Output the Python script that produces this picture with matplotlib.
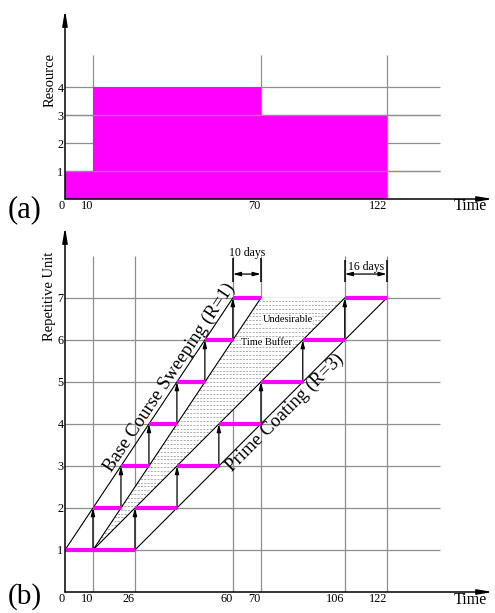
import numpy as np
import matplotlib
matplotlib.use('Agg')
import matplotlib.pyplot as plt
from matplotlib.patches import Polygon

plt.rcParams['font.family'] = ['Liberation Serif', 'DejaVu Serif']

# (a) resource histogram
res_times = [0, 10, 70, 122]
res_levels = [1, 4, 3]
res_ticks = [1, 2, 3, 4]
res_time_ticks = [0, 10, 70, 122]

# (b) repetitive schedule
units = [1, 2, 3, 4, 5, 6, 7]
base_start = [0, 10, 20, 30, 40, 50, 60]     # Base Course Sweeping (R=1)
base_dur = 10
prime_start = [10, 26, 42, 58, 74, 90, 106]  # Prime Coating (R=3)
prime_dur = 16
time_ticks = [0, 10, 26, 60, 70, 106, 122]

MAG = '#ff00ff'
GRID = '#8f8f8f'

# the time axis of the figure is not to scale: a 16-day prime unit is drawn 15 days wide
knots = {}
for t in base_start + [base_start[-1] + base_dur]:
    knots[t] = t
for j, t in enumerate(prime_start + [prime_start[-1] + prime_dur]):
    knots.setdefault(t, prime_start[0] + 15 * j)
kx = sorted(knots)
ky = [knots[k] for k in kx]
for i in range(1, len(ky)):
    if ky[i] <= ky[i - 1]:
        ky[i] = ky[i - 1] + 0.05
kx = [-100] + kx + [kx[-1] + 200]
ky = [-100] + ky + [ky[-1] + 200]


def fwd(x):
    return np.interp(x, kx, ky)


def inv(y):
    return np.interp(y, ky, kx)


fig = plt.figure(figsize=(4.95, 6.13), dpi=100)
W, H = 495, 613
axa = fig.add_axes([65 / W, 1 - 199 / H, 428 / W, 189 / H])
axb = fig.add_axes([65 / W, 1 - 592 / H, 428 / W, 365 / H])

XMAX = 160
GRID_END = 141


def setup(ax, yticks, xticks, ytop):
    ax.set_xscale('function', functions=(fwd, inv))
    ax.set_xlim(0, XMAX)
    ax.set_ylim(0, ytop)
    for s in ax.spines.values():
        s.set_visible(False)
    ax.set_xticks(xticks, labels=[str(t) for t in xticks])
    ax.set_yticks(yticks, labels=[str(t) for t in yticks])
    ax.tick_params(length=0, labelsize=8.8, pad=1)
    ax.tick_params(axis='x', pad=0.5)
    for lab in ax.get_xticklabels():
        lab.set_ha('right')
    ax.minorticks_off()
    arrow = dict(arrowstyle='-|>,head_length=0.9,head_width=0.15', lw=1.1,
                 color='k', shrinkA=0, shrinkB=0)
    ax.annotate('', xy=(0, 1), xytext=(0, 0), xycoords='axes fraction',
                arrowprops=arrow, annotation_clip=False, zorder=6)
    ax.annotate('', xy=(1, 0), xytext=(0, 0), xycoords='axes fraction',
                arrowprops=arrow, annotation_clip=False, zorder=6)


# ---- (a)
setup(axa, res_ticks, res_time_ticks, 6.75)
axa.vlines(res_time_ticks[1:], 0, 5.14, colors=GRID, lw=0.9, zorder=1)
axa.hlines(res_ticks, 0, GRID_END, colors=GRID, lw=0.9, zorder=1)
axa.fill_between(res_times, res_levels + [res_levels[-1]], step='post',
                 color=MAG, lw=0, zorder=2)
# crew boundaries (1 base crew, 3 prime crews) show over the fill
axa.hlines([res_levels[0], res_levels[-1]], 0, GRID_END, colors=GRID, lw=0.9, zorder=3)

# ---- (b)
setup(axb, units, time_ticks, 8.69)
axb.vlines(time_ticks[1:], 0, 8.0, colors=GRID, lw=0.9, zorder=1)
axb.hlines(units, 0, GRID_END, colors=GRID, lw=0.9, zorder=1)

base_end = [t + base_dur for t in base_start]
prime_end = [t + prime_dur for t in prime_start]

# undesirable time buffer
poly = Polygon([(base_end[0], units[0]), (base_end[-1], units[-1]),
                (prime_start[-1], units[-1])], closed=True, fc='white',
               ec='none', zorder=1.5)
axb.add_patch(poly)
hat = axb.hlines(np.arange(units[0] + 0.04, units[-1], 0.092), 0, GRID_END,
                 colors='#939393', lw=0.55, linestyles=(0, (2.5, 1.8)), zorder=1.6)
hat.set_clip_path(poly)

for xs in [(base_start[0], base_start[-1]), (base_end[0], base_end[-1]),
           (prime_start[0], prime_start[-1]), (prime_end[0], prime_end[-1])]:
    axb.plot(xs, (units[0], units[-1]), color='k', lw=0.8, zorder=2)

varrow = dict(arrowstyle='-|>,head_length=0.45,head_width=0.12', lw=0.9,
              color='k', shrinkA=0, shrinkB=0)
for i in range(len(units) - 1):
    axb.annotate('', xy=(base_start[i + 1], units[i + 1]), xytext=(base_end[i], units[i]),
                 arrowprops=varrow, zorder=3)
    axb.annotate('', xy=(prime_start[i + 1], units[i + 1]), xytext=(prime_end[i], units[i]),
                 arrowprops=varrow, zorder=3)

axb.hlines(units, base_start, base_end, colors=MAG, lw=3, zorder=4)
axb.hlines(units, prime_start, prime_end, colors=MAG, lw=3, zorder=4)


def angle(ax, p0, p1):
    a = ax.transData.transform(p0)
    b = ax.transData.transform(p1)
    return np.degrees(np.arctan2(b[1] - a[1], b[0] - a[0]))


ang_b = angle(axb, (base_start[0], units[0]), (base_start[-1], units[-1]))
ang_p = angle(axb, (prime_end[0], units[0]), (prime_end[-1], units[-1]))
axb.text(40, 5, 'Base Course Sweeping (R=1)', rotation=ang_b, rotation_mode='anchor',
         ha='center', va='bottom', fontsize=13.5, zorder=5)
axb.text(80.7, 4.42, 'Prime Coating (R=3)', rotation=ang_p, rotation_mode='anchor',
         ha='center', va='top', fontsize=13.5, zorder=5)

box = dict(fc='white', ec='none', pad=0.3)
axb.text(84.2, 6.48, 'Undesirable', ha='center', va='center', fontsize=7.5,
         bbox=box, zorder=5)
axb.text(76.3, 5.95, 'Time Buffer', ha='center', va='center', fontsize=7.5,
         bbox=box, zorder=5)

# dimension marks
darrow = dict(arrowstyle='<|-|>,head_length=0.45,head_width=0.12', lw=0.9,
              color='k', shrinkA=0, shrinkB=0)
axb.vlines([base_start[-1], base_end[-1]], 7.38, 7.95, colors='k', lw=1.1, zorder=5)
axb.annotate('', xy=(base_start[-1], 7.57), xytext=(base_end[-1], 7.57),
             arrowprops=darrow, zorder=5)
axb.text((base_start[-1] + base_end[-1]) / 2, 8.07, f'{base_dur} days',
         ha='center', va='center', fontsize=8.5)
axb.vlines([prime_start[-1], prime_end[-1]], 7.38, 7.9, colors='k', lw=1.1, zorder=5)
axb.annotate('', xy=(prime_start[-1], 7.57), xytext=(prime_end[-1], 7.57),
             arrowprops=darrow, zorder=5)
axb.text(114, 7.74, f'{prime_dur} days', ha='center', va='center', fontsize=8.5)

# labels
fig.text(50 / W, 1 - 80 / H, 'Resource', rotation=90, ha='center', va='center', fontsize=10.5)
fig.text(50 / W, 1 - 296 / H, 'Repetitive Unit', rotation=90, ha='center', va='center',
         fontsize=10.5)
fig.text(470 / W, 1 - 206 / H, 'Time', ha='center', va='center', fontsize=11.5)
fig.text(470 / W, 1 - 600 / H, 'Time', ha='center', va='center', fontsize=11.5)
fig.text(25 / W, 1 - 210 / H, '(a)', ha='center', va='center', fontsize=22)
fig.text(25 / W, 1 - 597 / H, '(b)', ha='center', va='center', fontsize=21)

fig.savefig('out.png', dpi=100)
